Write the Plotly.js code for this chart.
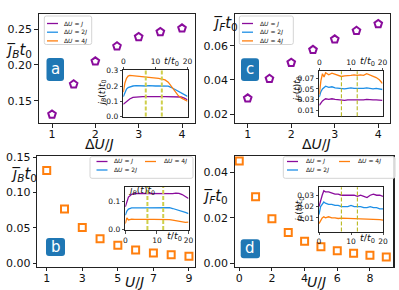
<!DOCTYPE html>
<html><head><meta charset="utf-8">
<script src="https://cdn.plot.ly/plotly-3.0.1.min.js"></script>
<style>html,body{margin:0;padding:0;background:#fff}</style>
</head><body><div id="chart" style="width:399px;height:290px"></div>
<script>
// ---------------- data ----------------
const dUVals = [1, 1.5, 2, 2.5, 3, 3.5, 4];
const jBvsDU = [0.131, 0.173, 0.205, 0.226, 0.239, 0.246, 0.251];
const jFvsDU = [0.0293, 0.0407, 0.0501, 0.0576, 0.0637, 0.0687, 0.0727];
const UValsB = [1, 2, 3, 4, 5, 6, 7, 8, 9];
const jBvsU = [0.131, 0.0766, 0.0506, 0.0348, 0.0255, 0.019, 0.0148, 0.012, 0.0102];
const UValsF = [0, 1, 2, 3, 4, 5, 6, 7, 8, 9];
const jFvsU = [0.045, 0.0293, 0.0196, 0.0135, 0.0097, 0.0073, 0.0055, 0.0044, 0.0035, 0.0028];

const tTime = [0, 0.5, 1, 1.5, 2, 3, 4, 5, 6, 7, 8, 9, 10, 11, 12, 13, 14, 15, 16, 17, 18, 19, 20];
// inset a: j_B(t) t0
const aJ  = [0.08, 0.09, 0.10, 0.11, 0.115, 0.125, 0.128, 0.13, 0.13, 0.131, 0.13, 0.13, 0.131, 0.13, 0.13, 0.131, 0.13, 0.13, 0.131, 0.13, 0.128, 0.12, 0.11];
const a2J = [0.13, 0.16, 0.18, 0.19, 0.195, 0.2, 0.202, 0.2, 0.201, 0.2, 0.202, 0.2, 0.2, 0.201, 0.2, 0.2, 0.199, 0.19, 0.178, 0.165, 0.152, 0.142, 0.132];
const a4J = [0.16, 0.22, 0.25, 0.265, 0.27, 0.268, 0.265, 0.263, 0.26, 0.26, 0.258, 0.255, 0.253, 0.25, 0.245, 0.24, 0.225, 0.195, 0.165, 0.14, 0.122, 0.11, 0.1];
// inset c: j_F(t) t0
const cJ  = [0.02, 0.025, 0.028, 0.03, 0.032, 0.031, 0.032, 0.031, 0.03, 0.03, 0.029, 0.03, 0.03, 0.029, 0.03, 0.03, 0.03, 0.031, 0.03, 0.03, 0.03, 0.029, 0.029];
const c2J = [0.035, 0.045, 0.05, 0.053, 0.055, 0.053, 0.054, 0.052, 0.051, 0.051, 0.05, 0.051, 0.052, 0.051, 0.051, 0.05, 0.051, 0.052, 0.051, 0.05, 0.051, 0.05, 0.049];
const c4J = [0.04, 0.065, 0.078, 0.072, 0.08, 0.076, 0.079, 0.077, 0.075, 0.073, 0.074, 0.074, 0.075, 0.076, 0.075, 0.076, 0.075, 0.078, 0.076, 0.073, 0.071, 0.067, 0.06];
// inset b: j_B(t) t0
const bJ  = [0.08, 0.1, 0.115, 0.12, 0.125, 0.128, 0.128, 0.127, 0.127, 0.128, 0.127, 0.127, 0.128, 0.127, 0.127, 0.126, 0.127, 0.127, 0.129, 0.128, 0.124, 0.118, 0.11];
const b2J = [0.05, 0.065, 0.072, 0.075, 0.076, 0.076, 0.077, 0.076, 0.076, 0.076, 0.077, 0.076, 0.076, 0.077, 0.077, 0.076, 0.077, 0.074, 0.071, 0.068, 0.064, 0.06, 0.056];
const b4J = [0.02, 0.04, 0.033, 0.035, 0.036, 0.035, 0.036, 0.035, 0.035, 0.036, 0.035, 0.035, 0.035, 0.036, 0.035, 0.035, 0.034, 0.032, 0.03, 0.028, 0.026, 0.024, 0.025];
// inset d: j_F(t) t0
const dJ  = [0.02, 0.026, 0.03, 0.034, 0.033, 0.033, 0.032, 0.031, 0.031, 0.03, 0.03, 0.03, 0.03, 0.03, 0.029, 0.03, 0.029, 0.028, 0.03, 0.031, 0.03, 0.03, 0.029];
const d2J = [0.013, 0.02, 0.022, 0.024, 0.023, 0.022, 0.022, 0.021, 0.021, 0.02, 0.02, 0.02, 0.021, 0.02, 0.02, 0.02, 0.019, 0.019, 0.02, 0.019, 0.019, 0.018, 0.018];
const d4J = [0.005, 0.008, 0.01, 0.011, 0.01, 0.011, 0.01, 0.01, 0.0095, 0.0098, 0.0097, 0.0096, 0.0097, 0.0097, 0.0096, 0.0095, 0.0095, 0.0094, 0.009, 0.009, 0.0088, 0.0085, 0.008];
const windowT = [7, 12];

const seriesLabels = ['Δ<i>U</i> = <i>J</i>', 'Δ<i>U</i> = 2<i>J</i>', 'Δ<i>U</i> = 4<i>J</i>'];
const aXTicks = [1, 2, 3, 4], aYTicks = [0.15, 0.20, 0.25];
const cXTicks = [1, 2, 3, 4], cYTicks = [0.02, 0.04, 0.06];
const bXTicks = [1, 3, 5, 7, 9], bYTicks = [0, 0.05, 0.10, 0.15];
const dXTicks = [0, 2, 4, 6, 8], dYTicks = [0, 0.02, 0.04];
const insetTTicks = [0, 10, 20];
const aInYTicks = [0, 0.1, 0.2, 0.3], cInYTicks = [0.01, 0.03, 0.05, 0.07];
const bInYTicks = [0, 0.1], dInYTicks = [0.01, 0.02, 0.03];
const panelLetters = ['a', 'b', 'c', 'd'];

// ---------------- styles / layout helpers ----------------
const W = 399, H = 290, FONT = 'DejaVu Sans';
const PURPLE = '#8a0c9c', BLUE = '#1e8fe6', ORANGE = '#ff7f0e', TAB = '#1f77b4';
const X = v => v / W, Y = v => 1 - v / H;
const dx = (a, b) => [X(a), X(b)], dy = (a, b) => [Y(b), Y(a)];

function mainAxis(domain, range, tickvals, fmt, anchor, extra) {
  return Object.assign({domain, range, tickvals, tickformat: fmt, anchor,
    showline: true, mirror: true, linecolor: '#222', linewidth: 1.2,
    ticks: 'outside', ticklen: 3.5, tickwidth: 1, tickcolor: '#222',
    showgrid: false, zeroline: false, fixedrange: true,
    tickfont: {family: FONT, size: 11, color: '#111'}}, extra || {});
}
function insetAxis(domain, range, tickvals, fmt, anchor, extra) {
  return Object.assign({domain, range, tickvals, tickformat: fmt, anchor,
    showline: true, mirror: true, linecolor: '#222', linewidth: 1,
    ticks: 'outside', ticklen: 2.5, tickwidth: 0.8, tickcolor: '#222',
    showgrid: false, zeroline: false, fixedrange: true,
    tickfont: {family: FONT, size: 7.5, color: '#111'}}, extra || {});
}
function rrect(x0, y0, x1, y1, r) {
  return `M${X(x0 + r)},${Y(y0)} L${X(x1 - r)},${Y(y0)} Q${X(x1)},${Y(y0)} ${X(x1)},${Y(y0 + r)} ` +
    `L${X(x1)},${Y(y1 - r)} Q${X(x1)},${Y(y1)} ${X(x1 - r)},${Y(y1)} L${X(x0 + r)},${Y(y1)} ` +
    `Q${X(x0)},${Y(y1)} ${X(x0)},${Y(y1 - r)} L${X(x0)},${Y(y0 + r)} Q${X(x0)},${Y(y0)} ${X(x0 + r)},${Y(y0)} Z`;
}
const annotations = [], shapes = [];
function ann(text, x, y, size, opts) {
  annotations.push(Object.assign({text, x: X(x), y: Y(y), xref: 'paper', yref: 'paper',
    showarrow: false, xanchor: 'center', yanchor: 'middle',
    font: {family: FONT, size, color: '#111'}}, opts || {}));
}
function legendBox(fx0, fy0, fx1, fy1, entries) {
  shapes.push({type: 'path', path: rrect(fx0, fy0, fx1, fy1, 2), xref: 'paper', yref: 'paper',
    fillcolor: 'rgba(255,255,255,0.85)', line: {color: '#d4d4d4', width: 1}});
  entries.forEach(e => {
    shapes.push({type: 'line', xref: 'paper', yref: 'paper', x0: X(e.lx), x1: X(e.lx + 11),
      y0: Y(e.y), y1: Y(e.y), line: {color: e.color, width: 1.3}});
    ann(e.label, e.tx, e.y, 6, {xanchor: 'left'});
  });
}
function letterBox(letter, x0, y0, x1, y1) {
  shapes.push({type: 'path', path: rrect(x0, y0, x1, y1, 3), xref: 'paper', yref: 'paper',
    fillcolor: TAB, line: {width: 0}});
  ann(letter, (x0 + x1) / 2, (y0 + y1) / 2 - 0.5, 15, {font: {family: FONT, size: 15, color: '#fff'}});
}

// ---------------- traces ----------------
const colors = [PURPLE, BLUE, ORANGE];
const traces = [
  {x: dUVals, y: jBvsDU, xaxis: 'x', yaxis: 'y', mode: 'markers',
   marker: {symbol: 'pentagon-open', size: 8, color: PURPLE, line: {width: 2, color: PURPLE}}},
  {x: dUVals, y: jFvsDU, xaxis: 'x2', yaxis: 'y2', mode: 'markers',
   marker: {symbol: 'pentagon-open', size: 8, color: PURPLE, line: {width: 2, color: PURPLE}}},
  {x: UValsB, y: jBvsU, xaxis: 'x3', yaxis: 'y3', mode: 'markers',
   marker: {symbol: 'square-open', size: 7, color: ORANGE, line: {width: 2, color: ORANGE}}},
  {x: UValsF, y: jFvsU, xaxis: 'x4', yaxis: 'y4', mode: 'markers',
   marker: {symbol: 'square-open', size: 7, color: ORANGE, line: {width: 2, color: ORANGE}}}
];
const insetSets = [['x5', 'y5', [aJ, a2J, a4J]], ['x6', 'y6', [cJ, c2J, c4J]],
                   ['x7', 'y7', [bJ, b2J, b4J]], ['x8', 'y8', [dJ, d2J, d4J]]];
insetSets.forEach(([xa, ya, arrs]) => arrs.forEach((arr, i) => traces.push(
  {x: tTime, y: arr, xaxis: xa, yaxis: ya, mode: 'lines', line: {color: colors[i], width: 1.3}})));
traces.forEach(t => { t.showlegend = false; t.hoverinfo = 'skip'; });

// window lines
[['x5', 'y5', '#cfcf4a', 2], ['x6', 'y6', '#b9b920', 1.1], ['x7', 'y7', '#cfcf4a', 2], ['x8', 'y8', '#b9b920', 1.1]]
  .forEach(([xa, ya, col, w]) => windowT.forEach(t => shapes.push({type: 'line', xref: xa, yref: ya + ' domain',
    x0: t, x1: t, y0: 0, y1: 1, line: {color: col, width: w, dash: '4px,2px'}})));

// ---------------- layout ----------------
const xTickTight = {ticklabelstandoff: -3};
const layout = {
  width: W, height: H, margin: {l: 0, r: 0, t: 0, b: 0},
  paper_bgcolor: '#fff', plot_bgcolor: '#fff', showlegend: false,
  font: {family: FONT, color: '#111'},
  xaxis:  mainAxis(dx(39, 195), [0.70, 4.30], aXTicks, 'd', 'y', xTickTight),
  yaxis:  mainAxis(dy(14, 123), [0.119, 0.271], aYTicks, '.2f', 'x'),
  xaxis2: mainAxis(dx(235, 390), [0.708, 4.27], cXTicks, 'd', 'y2', xTickTight),
  yaxis2: mainAxis(dy(14, 123), [0.0149, 0.0785], cYTicks, '.2f', 'x2'),
  xaxis3: mainAxis(dx(37.3, 195), [0.47, 9.34], bXTicks, 'd', 'y3', xTickTight),
  yaxis3: mainAxis(dy(155.7, 266.7), [-0.0047, 0.152], bYTicks, '.2f', 'x3'),
  xaxis4: mainAxis(dx(235, 393.3), [-0.26, 9.43], dXTicks, 'd', 'y4', xTickTight),
  yaxis4: mainAxis(dy(155.7, 266.7), [-0.0015, 0.0473], dYTicks, '.2f', 'x4'),
  xaxis5: insetAxis(dx(123.3, 187.5), [0, 20], insetTTicks, 'd', 'y5', {side: 'top'}),
  yaxis5: insetAxis(dy(70, 116.5), [0, 0.305], aInYTicks, '.1f', 'x5'),
  xaxis6: insetAxis(dx(319.3, 382.5), [0, 20], insetTTicks, 'd', 'y6', {side: 'top'}),
  yaxis6: insetAxis(dy(71.3, 116.3), [-0.0003, 0.0825], cInYTicks, '.2f', 'x6'),
  xaxis7: insetAxis(dx(125.3, 188.5), [0, 20], insetTTicks, 'd', 'y7'),
  yaxis7: insetAxis(dy(187, 230), [-0.003, 0.151], bInYTicks, '.1f', 'x7'),
  xaxis8: insetAxis(dx(319, 383), [0, 20], insetTTicks, 'd', 'y8'),
  yaxis8: insetAxis(dy(187.3, 231.5), [-0.002, 0.037], dInYTicks, '.2f', 'x8'),
  shapes, annotations
};

// axis titles
const dUJ = 'Δ<i>U</i>/<i>J</i>', UJ = '<i>U</i>/<i>J</i>';
ann(dUJ, 99, 144, 14); ann(dUJ, 316.7, 144, 14);
ann(UJ, 134.5, 281.5, 14); ann(UJ, 316.7, 281.5, 14);
ann('<i>j̅<sub>B</sub>t</i><sub>0</sub>', 19, 50, 15);
ann('<i>j̅<sub>F</sub>t</i><sub>0</sub>', 225, 23, 15);
ann('<i>j̅<sub>B</sub>t</i><sub>0</sub>', 24, 174, 15);
ann('<i>j̅<sub>F</sub>t</i><sub>0</sub>', 215, 196.5, 15);
// inset titles
const tt = '<i>t</i>/<i>t</i><sub>0</sub>';
ann(tt, 171.5, 61.5, 9.5); ann(tt, 367, 61.5, 9.5); ann(tt, 174.5, 236, 9.5); ann(tt, 367, 238.5, 9.5);
ann('<i>j<sub>B</sub></i>(<i>t</i>)<i>t</i><sub>0</sub>', 102.5, 93, 9, {textangle: -90});
ann('<i>j<sub>F</sub></i>(<i>t</i>)<i>t</i><sub>0</sub>', 297.5, 90, 9, {textangle: -90});
ann('<i>j<sub>B</sub></i>(<i>t</i>)<i>t</i><sub>0</sub>', 141, 190.5, 9);
ann('<i>j<sub>F</sub></i>(<i>t</i>)<i>t</i><sub>0</sub>', 299, 210, 9, {textangle: -90});

// legends
legendBox(44.3, 16, 91.7, 44.5, [0, 1, 2].map(i => ({color: colors[i], label: seriesLabels[i], lx: 47, tx: 61.5, y: 23.5 + 8.7 * i})));
legendBox(239.3, 16, 293.3, 44.5, [0, 1, 2].map(i => ({color: colors[i], label: seriesLabels[i], lx: 242, tx: 258, y: 23.5 + 8.7 * i})));
legendBox(90, 156.7, 193, 178.3, [
  {color: colors[0], label: seriesLabels[0], lx: 96.5, tx: 111.5, y: 161.5},
  {color: colors[1], label: seriesLabels[1], lx: 96.5, tx: 111.5, y: 170},
  {color: colors[2], label: seriesLabels[2], lx: 145, tx: 162, y: 161.5}]);
legendBox(283.3, 156.7, 395, 178.3, [
  {color: colors[0], label: seriesLabels[0], lx: 287, tx: 304, y: 161.5},
  {color: colors[1], label: seriesLabels[1], lx: 287, tx: 304, y: 170},
  {color: colors[2], label: seriesLabels[2], lx: 339, tx: 355.5, y: 161.5}]);

// panel letters
letterBox(panelLetters[0], 46.5, 58, 64, 81);
letterBox(panelLetters[2], 241, 58.3, 259, 81);
letterBox(panelLetters[1], 46, 238, 65, 256);
letterBox(panelLetters[3], 240.7, 239.3, 260, 258.3);

Plotly.newPlot('chart', traces, layout, {displayModeBar: false, staticPlot: true});
</script></body></html>
